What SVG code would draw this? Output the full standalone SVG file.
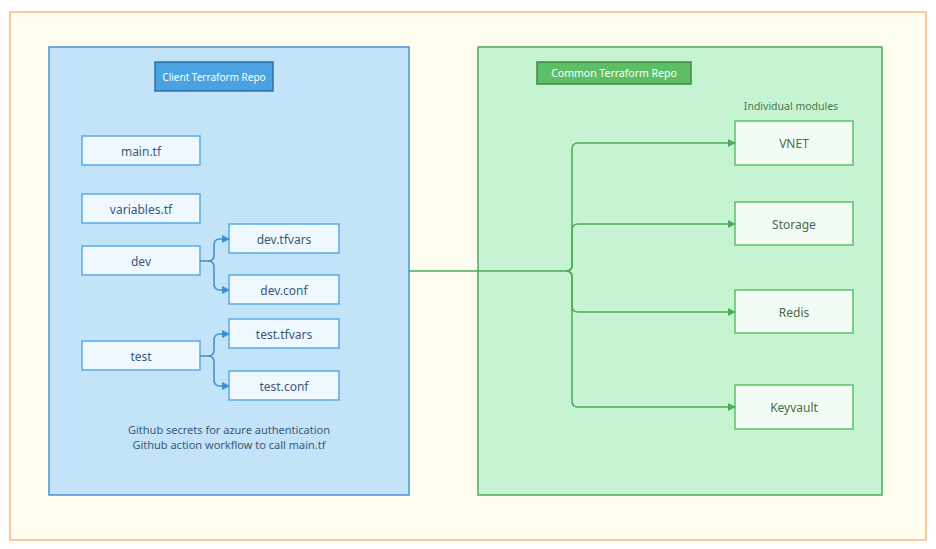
<svg xmlns="http://www.w3.org/2000/svg" width="936" height="549" viewBox="0 0 936 549">
<defs>
<style>
text{font-family:"Noto Sans","Open Sans",sans-serif;text-anchor:middle;dominant-baseline:central}
.bn text,.gn text{font-size:12px}
.bn rect{fill:#f0f8ff;stroke:#5aaae6;stroke-width:1.5}
.bn text{fill:#3a5a78}
.gn rect{fill:#f2fcf4;stroke:#5cc264;stroke-width:1.5}
.gn text{fill:#4a6a4a}
.bl{fill:none;stroke:#3e8ed4;stroke-width:1.5}
.gl{fill:none;stroke:#4eaa58;stroke-width:1.5}
</style>
<marker id="ab" viewBox="0 0 10 10" refX="9" refY="5" markerWidth="8" markerHeight="8" markerUnits="userSpaceOnUse" orient="auto"><path d="M0,0L10,5L0,10z" fill="#3e8ed4"/></marker>
<marker id="ag" viewBox="0 0 10 10" refX="9" refY="5" markerWidth="8" markerHeight="8" markerUnits="userSpaceOnUse" orient="auto"><path d="M0,0L10,5L0,10z" fill="#4eaa58"/></marker>
</defs>
<rect x="0" y="0" width="936" height="549" fill="#fff"/>
<rect x="10" y="12" width="916" height="528" fill="#fffdf0" stroke="#f5b87a" stroke-width="1.5"/>
<g id="client"><rect x="49" y="47" width="360" height="448" fill="#c2e3f8" stroke="#4a90d9" stroke-width="1.5"/>
<rect x="155" y="62" width="118" height="29" fill="#4aa3e0" stroke="#2f6fa8" stroke-width="1.5"/>
<text x="214" y="77" fill="#fff" font-size="10">Client Terraform Repo</text>
<text x="229" y="429" fill="#3a5a78" font-size="11">Github secrets for azure authentication</text>
<text x="229" y="444" fill="#3a5a78" font-size="11">Github action workflow to call main.tf</text></g>
<g id="common"><rect x="478" y="47" width="404" height="448" fill="#c6f4d2" stroke="#4eaa58" stroke-width="1.5"/>
<rect x="537" y="62" width="154" height="22" fill="#5cbf66" stroke="#3a8a42" stroke-width="1.5"/>
<text x="614" y="73" fill="#fff" font-size="10.5">Common Terraform  Repo</text>
<text x="791" y="106" fill="#4a7a4a" font-size="10.5">Individual modules</text></g>
<g id="main" class="bn"><rect x="82" y="136" width="118" height="29"/><text x="141" y="151">main.tf</text></g>
<g id="variables" class="bn"><rect x="82" y="194" width="118" height="29"/><text x="141" y="209">variables.tf</text></g>
<g id="dev" class="bn"><rect x="82" y="246" width="118" height="29"/><text x="141" y="261">dev</text></g>
<g id="test" class="bn"><rect x="82" y="341" width="118" height="29"/><text x="141" y="356">test</text></g>
<g id="devtfvars" class="bn"><rect x="229" y="224" width="110" height="29"/><text x="284" y="239">dev.tfvars</text></g>
<g id="devconf" class="bn"><rect x="229" y="275" width="110" height="29"/><text x="284" y="290">dev.conf</text></g>
<g id="testtfvars" class="bn"><rect x="229" y="319" width="110" height="29"/><text x="284" y="334">test.tfvars</text></g>
<g id="testconf" class="bn"><rect x="229" y="371" width="110" height="29"/><text x="284" y="386">test.conf</text></g>
<g id="vnet" class="gn"><rect x="735" y="121" width="118" height="44"/><text x="794" y="143">VNET</text></g>
<g id="storage" class="gn"><rect x="735" y="202" width="118" height="43"/><text x="794" y="224">Storage</text></g>
<g id="redis" class="gn"><rect x="735" y="290" width="118" height="43"/><text x="794" y="312">Redis</text></g>
<g id="keyvault" class="gn"><rect x="735" y="385" width="118" height="44"/><text x="794" y="407">Keyvault</text></g>
<g id="connectors">
<path class="bl" d="M200,261H208Q214,261 214,255V245Q214,239 220,239H229" marker-end="url(#ab)"/>
<path class="bl" d="M208,261Q214,261 214,267V284Q214,290 220,290H229" marker-end="url(#ab)"/>
<path class="bl" d="M200,356H208Q214,356 214,350V340Q214,334 220,334H229" marker-end="url(#ab)"/>
<path class="bl" d="M208,356Q214,356 214,362V380Q214,386 220,386H229" marker-end="url(#ab)"/>
<path class="gl" d="M409,271H566Q572,271 572,265V149Q572,143 578,143H735" marker-end="url(#ag)"/>
<path class="gl" d="M566,271Q572,271 572,265V230Q572,224 578,224H735" marker-end="url(#ag)"/>
<path class="gl" d="M566,271Q572,271 572,277V306Q572,312 578,312H735" marker-end="url(#ag)"/>
<path class="gl" d="M566,271Q572,271 572,277V401Q572,407 578,407H735" marker-end="url(#ag)"/>
</g>
</svg>
